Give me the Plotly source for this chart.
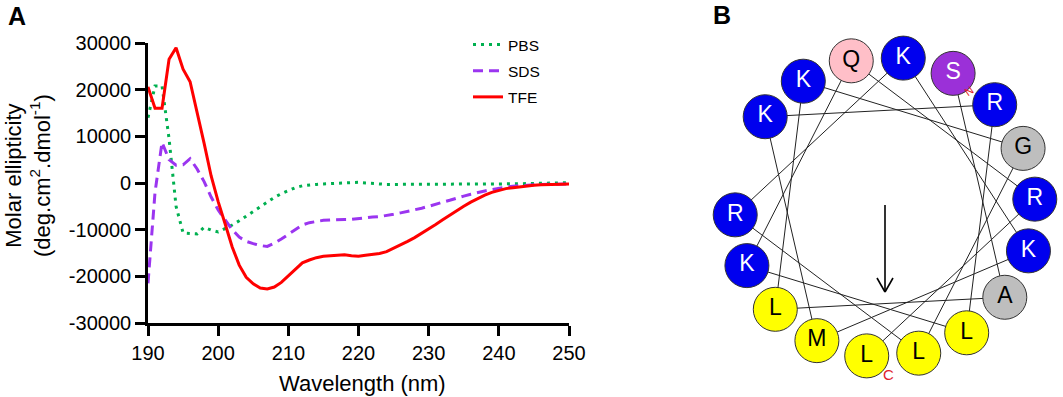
import math
import plotly.graph_objects as go

# ---------------- Panel A data ----------------
wavelength = list(range(190, 251))

pbs = [14000, 20800, 20800, 9500, -5000, -10700, -10800, -10900, -9500, -10100,
       -10500, -9800, -9000, -8100, -7100, -6000, -5000, -4000, -3100, -2300,
       -1600, -1000, -600, -400, -300, -200, -100, -50, 50, 100,
       150, 0, -150, -250, -300, -300, -300, -300, -320, -330,
       -330, -330, -330, -320, -310, -300, -300, -280, -260, -240,
       -220, -200, -180, -150, -120, -100, -80, -50, -20, 20, 60]

sds = [-21500, -2000, 8700, 5000, 3800, 3900, 5200, 3000, 300, -3000,
       -5800, -8000, -10000, -11600, -12500, -13000, -13400, -13600, -12900, -12000,
       -11000, -10000, -9000, -8500, -8200, -8000, -7900, -7800, -7800, -7800,
       -7600, -7400, -7300, -7200, -7000, -6700, -6400, -6100, -5800, -5400,
       -5000, -4500, -4100, -3700, -3200, -2800, -2400, -2000, -1700, -1400,
       -1100, -900, -700, -550, -450, -350, -300, -250, -200, -200, -200]

tfe = [20600, 16000, 16000, 26500, 29000, 24400, 21700, 15300, 8500, 1500,
       -4000, -8800, -13700, -17600, -20200, -21600, -22500, -22700, -22300, -21300,
       -19900, -18300, -17100, -16500, -16000, -15700, -15600, -15500, -15400, -15600,
       -15700, -15500, -15300, -15100, -14700, -14000, -13200, -12500, -11700, -10800,
       -9800, -8900, -7900, -6900, -5900, -5000, -4100, -3300, -2600, -2000,
       -1600, -1200, -1000, -800, -600, -500, -400, -300, -300, -250, -200]

series_names = ["PBS", "SDS", "TFE"]

x_tick_vals = [190, 200, 210, 220, 230, 240, 250]
y_tick_vals = [-30000, -20000, -10000, 0, 10000, 20000, 30000]
y_tick_text = ["-30000", "-20000", "-10000", "0", "10000", "20000", "30000"]

# ---------------- Panel B data ----------------
residues = ["S", "A", "L", "K", "G", "L", "R", "K", "K", "M",
            "K", "R", "L", "K", "Q", "R", "L"]
residue_colors = {"K": "#0000EE", "R": "#0000EE", "L": "#FFFF00", "M": "#FFFF00",
                  "A": "#BEBEBE", "G": "#BEBEBE", "Q": "#FFBFC8", "S": "#9B30D8"}
text_colors = {"K": "white", "R": "white", "S": "white", "L": "black",
               "M": "black", "A": "black", "G": "black", "Q": "black"}

FONT = "Arial, Liberation Sans, Helvetica, sans-serif"
W, H = 1063, 397

fig = go.Figure()

fig.add_trace(go.Scatter(x=wavelength, y=pbs, name=series_names[0], mode="lines",
                         legendgroup="g1",
                         line=dict(color="#00B050", width=3, dash="3px,5px")))
fig.add_trace(go.Scatter(x=wavelength, y=sds, name=series_names[1], mode="lines",
                         legendgroup="g2",
                         line=dict(color="#9B35F0", width=3, dash="10px,6px")))
fig.add_trace(go.Scatter(x=wavelength, y=tfe, name=series_names[2], mode="lines",
                         legendgroup="g3",
                         line=dict(color="#FF0000", width=3)))

# helical wheel geometry (pixel-like coordinates on xaxis2/yaxis2)
cx, cy, R = 885, 207, 150
start_angle, step = 63, -100
xs, ys = [], []
for i, r in enumerate(residues):
    a = math.radians(start_angle + step * i)
    xs.append(cx + R * math.cos(a))
    ys.append(cy - R * math.sin(a))

fig.add_trace(go.Scatter(x=xs, y=ys, mode="lines", xaxis="x2", yaxis="y2",
                         line=dict(color="#222222", width=1), showlegend=False,
                         hoverinfo="skip"))
fig.add_trace(go.Scatter(x=xs, y=ys, mode="markers+text", xaxis="x2", yaxis="y2",
                         text=residues, textposition="middle center",
                         textfont=dict(family=FONT, size=23,
                                       color=[text_colors[r] for r in residues]),
                         marker=dict(size=44, color=[residue_colors[r] for r in residues],
                                     line=dict(color="#333333", width=1)),
                         showlegend=False, hoverinfo="text"))

axis_common = dict(showline=True, linecolor="black", linewidth=2.7, ticks="outside",
                   ticklen=10, tickwidth=2.7, tickcolor="black", showgrid=False,
                   zeroline=False, mirror=False, automargin=False,
                   tickfont=dict(family=FONT, size=20, color="black"))

fig.update_layout(
    template="none",
    width=W, height=H, autosize=False,
    margin=dict(l=0, r=0, t=0, b=0, pad=0, autoexpand=False),
    paper_bgcolor="white", plot_bgcolor="white",
    xaxis=dict(domain=[148 / W, 569 / W], range=[190, 250], tickvals=x_tick_vals,
               anchor="y", **axis_common),
    yaxis=dict(domain=[(H - 323) / H, (H - 43) / H], range=[-30000, 30000],
               tickvals=y_tick_vals, ticktext=y_tick_text, anchor="x", **axis_common),
    xaxis2=dict(domain=[700 / W, 1], range=[700, 1063], visible=False, anchor="y2",
                automargin=False),
    yaxis2=dict(domain=[0, 1], range=[397, 0], visible=False, anchor="x2",
                automargin=False),
    legend=dict(x=468 / W, y=(H - 28) / H, xanchor="left", yanchor="top",
                font=dict(family=FONT, size=15.5, color="black"),
                bgcolor="rgba(0,0,0,0)", itemwidth=30, tracegroupgap=3),
    font=dict(family=FONT, color="black"),
    showlegend=True,
)

# arrow (hydrophobic moment) in wheel centre
fig.add_shape(type="line", xref="x2", yref="y2", x0=cx, y0=cy - 2, x1=cx, y1=cy + 85,
              line=dict(color="black", width=1.6))
fig.add_shape(type="line", xref="x2", yref="y2", x0=cx - 8, y0=cy + 71, x1=cx, y1=cy + 85,
              line=dict(color="black", width=1.6))
fig.add_shape(type="line", xref="x2", yref="y2", x0=cx + 8, y0=cy + 71, x1=cx, y1=cy + 85,
              line=dict(color="black", width=1.6))

centered = dict(xref="paper", yref="paper", showarrow=False,
                xanchor="center", yanchor="middle")
annotations = [
    dict(text="<b>A</b>", x=17 / W, y=(H - 16) / H,
         font=dict(family=FONT, size=25, color="black"), **centered),
    dict(text="<b>B</b>", x=722 / W, y=(H - 15) / H,
         font=dict(family=FONT, size=25, color="black"), **centered),
    dict(text="Molar ellipticity<br>(deg.cm<sup>2</sup>.dmol<sup>-1</sup>)",
         x=28 / W, y=(H - 176) / H, textangle=-90,
         font=dict(family=FONT, size=22, color="black"), **centered),
    dict(text="Wavelength (nm)", x=362 / W, y=(H - 383) / H,
         font=dict(family=FONT, size=22, color="black"), **centered),
    dict(text="C", x=888, y=374, xref="x2", yref="y2", showarrow=False,
         xanchor="center", yanchor="middle",
         font=dict(family=FONT, size=15, color="#E0202A")),
    dict(text="N", x=969, y=91, xref="x2", yref="y2", showarrow=False, textangle=-35,
         xanchor="center", yanchor="middle",
         font=dict(family=FONT, size=11, color="#E0202A")),
]
fig.update_layout(annotations=annotations)

fig.write_html("out.html", config={"displayModeBar": False},
               post_script="document.body.style.margin='0px';document.body.style.overflow='hidden';")
